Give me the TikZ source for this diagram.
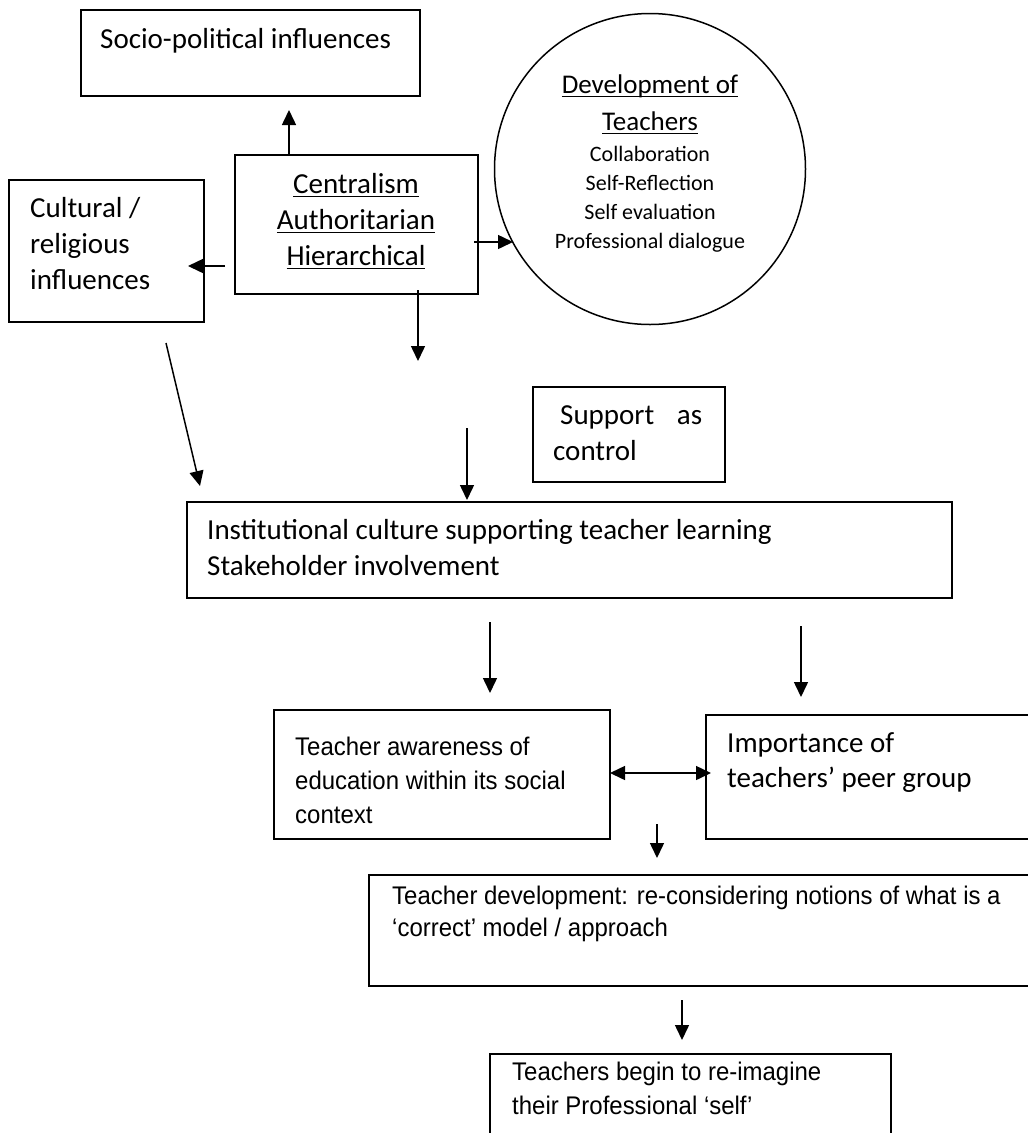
\documentclass[tikz,border=0pt]{standalone}
\usepackage{fontspec}
\setmainfont{Carlito}
\newfontfamily\arialf[FakeStretch=0.94]{Liberation Sans}
\usetikzlibrary{arrows.meta}
\newcommand\fs[2]{\fontsize{#1}{#2}\selectfont}
\newcommand\myul[1]{\setbox0\hbox{#1}\rlap{\rule[-4pt]{\wd0}{1.5pt}}\box0}
\begin{document}
\begin{tikzpicture}[x=1pt,y=-1pt,
  box/.style={draw,line width=1.6pt,rectangle,inner sep=0pt,anchor=north west},
  txt/.style={anchor=base west,inner sep=0pt,align=left},
  cal/.style={font=\fs{29}{36}},
  ari/.style={font=\arialf\fs{25.5}{34}},
  arr/.style={line width=1.5pt,-{Triangle[length=15pt,width=14pt]}},
  dbl/.style={line width=1.5pt,{Triangle[length=15pt,width=14pt]}-{Triangle[length=15pt,width=14pt]}}
]
\useasboundingbox (0,0) rectangle (1028,1133);
\clip (0,0) rectangle (1028,1133);
\fill[white] (0,0) rectangle (1028,1133);

% boxes
\node[box,minimum width=339pt,minimum height=86pt] (socio) at (80,9) {};
\node[box,minimum width=243pt,minimum height=139pt] (cent) at (234,154) {};
\node[box,minimum width=195pt,minimum height=142pt] (cult) at (8,179) {};
\node[draw,circle,line width=1.5pt,minimum size=311pt,inner sep=0pt] (dev) at (650,169) {};
\node[box,minimum width=192pt,minimum height=95pt] (supp) at (532,386) {};
\node[box,minimum width=765pt,minimum height=96pt] (inst) at (186,501) {};
\node[box,minimum width=336pt,minimum height=129pt] (aware) at (273,709) {};
\node[box,minimum width=340pt,minimum height=124pt] (peer) at (705,714) {};
\node[box,minimum width=680pt,minimum height=111pt] (tdev) at (368,874) {};
\node[box,minimum width=401pt,minimum height=110pt] (reim) at (489,1053) {};

% texts (multi-line nodes are placed by the baseline of their last line)
\node[txt,cal] (sociot) at (100,48) {Socio-political influences};
\node[anchor=base,inner sep=0pt,align=center,cal] (centt) at (356,265)
  {\myul{Centralism}\\\myul{Authoritarian}\\\myul{Hierarchical}};
\node[txt,cal] (cultt) at (30,289) {Cultural /\\religious\\influences};
\node[anchor=base,inner sep=0pt,align=center,font=\fs{27}{37}] (devt) at (650,130)
  {\myul{Development of}\\\myul{Teachers}};
\node[anchor=base,inner sep=0pt,align=center,font=\fs{22}{28.7}] (devl) at (650,248)
  {Collaboration\\Self-Reflection\\Self evaluation\\Professional dialogue};
\node[txt,cal,text width=149pt] (suppt) at (553,424) {\hspace*{7pt}Support\hfill as\\control};
\node[txt,cal] (instt) at (207,575) {Institutional culture supporting teacher learning\\Stakeholder involvement};
\node[txt,ari] (awaret) at (295,823) {Teacher awareness of\\education within its social\\context};
\node[txt,cal,font=\fs{29}{35}] (peert) at (727,787) {Importance of\\teachers’ peer group};
\node[txt,ari,font=\arialf\fs{25.5}{32}] (tdevt) at (392,936) {Teacher development: re-considering notions of what is a\\‘correct’ model / approach};
\node[txt,ari] (reimt) at (512,1114) {Teachers begin to re-imagine\\their Professional ‘self’};

% free ends of connectors
\coordinate (a1s) at (289,155); \coordinate (a1e) at (289,110);
\coordinate (a2s) at (225,266); \coordinate (a2e) at (188,266);
\coordinate (a3s) at (474,242); \coordinate (a3e) at (513,242);
\coordinate (a4s) at (418,290); \coordinate (a4e) at (418,361);
\coordinate (a5s) at (166,343); \coordinate (a5e) at (200,486);
\coordinate (a6s) at (467,428); \coordinate (a6e) at (467,500);
\coordinate (a7s) at (490,622); \coordinate (a7e) at (490,693);
\coordinate (a8s) at (801,626); \coordinate (a8e) at (801,697);
\coordinate (a9s) at (610,773); \coordinate (a9e) at (711,773);
\coordinate (a10s) at (657,824); \coordinate (a10e) at (657,858);
\coordinate (a11s) at (682,1000); \coordinate (a11e) at (682,1040);

\draw[arr] (a1s) -- (a1e);
\draw[arr] (a2s) -- (a2e);
\draw[arr] (a3s) -- (a3e);
\draw[arr] (a4s) -- (a4e);
\draw[arr] (a5s) -- (a5e);
\draw[arr] (a6s) -- (a6e);
\draw[arr] (a7s) -- (a7e);
\draw[arr] (a8s) -- (a8e);
\draw[dbl] (a9s) -- (a9e);
\draw[arr] (a10s) -- (a10e);
\draw[arr] (a11s) -- (a11e);
\end{tikzpicture}
\end{document}
